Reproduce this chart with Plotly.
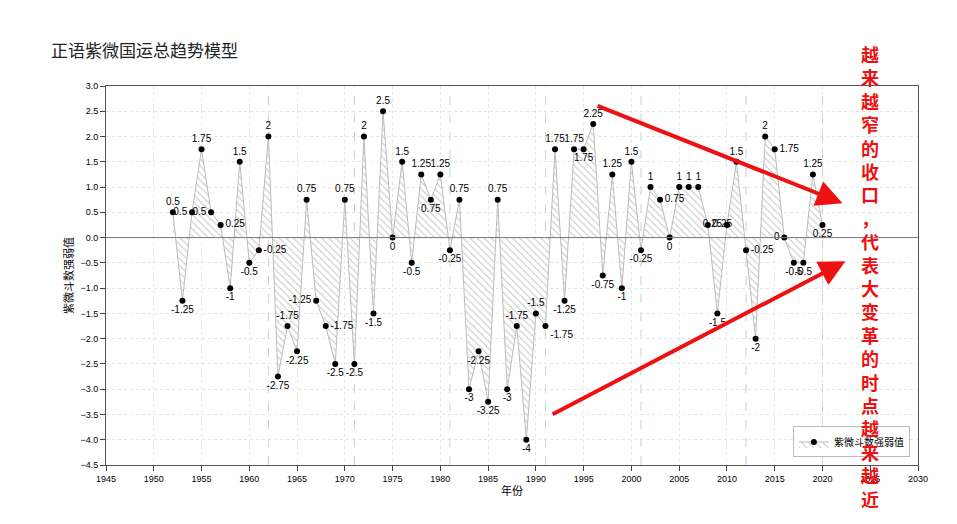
import plotly.graph_objects as go

years = list(range(1952, 2021))
values = [0.5, -1.25, 0.5, 1.75, 0.5, 0.25, -1, 1.5, -0.5, -0.25,
          2, -2.75, -1.75, -2.25, 0.75, -1.25, -1.75, -2.5, 0.75, -2.5,
          2, -1.5, 2.5, 0, 1.5, -0.5, 1.25, 0.75, 1.25, -0.25,
          0.75, -3, -2.25, -3.25, 0.75, -3, -1.75, -4, -1.5, -1.75,
          1.75, -1.25, 1.75, 1.75, 2.25, -0.75, 1.25, -1, 1.5, -0.25,
          1, 0.75, 0, 1, 1, 1, 0.25, -1.5, 0.25, 1.5,
          -0.25, -2, 2, 1.75, 0, -0.5, -0.5, 1.25, 0.25]
labels = [("%g" % v) for v in values]
overrides = {1952: "top center", 1954: "middle left", 1956: "middle left", 1957: "middle right",
             1961: "middle right", 1964: "top center", 1967: "middle left", 1968: "middle right",
             1979: "bottom center", 1988: "top center", 1990: "top center", 1991: "bottom right",
             1995: "bottom center", 2003: "middle right", 2008: "middle right", 2010: "middle left",
             2012: "middle right", 2015: "middle right", 2016: "middle left", 2020: "bottom center"}
positions = [overrides.get(y, "top center" if v > 0 else "bottom center") for y, v in zip(years, values)]

fig = go.Figure()
fig.add_trace(go.Scatter(
    x=years, y=values, mode="lines+markers+text", name="紫微斗数强弱值",
    line=dict(color="#bbbbbb", width=1),
    marker=dict(color="black", size=6),
    fill="tozeroy", fillcolor="rgba(0,0,0,0)",
    fillpattern=dict(shape="\\", fgcolor="#888888", bgcolor="white", size=5, solidity=0.2),
    text=labels, textposition=positions, textfont=dict(size=10, color="black", family="Arial"),
))

for xv, col in [(1962, "#cccccc"), (1971, "#cccccc"), (1981, "#b8e0b8"), (1991, "#b8e0b8"),
                (2001, "#b8e0b8"), (2012, "#cccccc"), (2020, "#f4b0b0")]:
    fig.add_shape(type="line", x0=xv, x1=xv, y0=-4.5, y1=3, line=dict(color=col, width=1, dash="dash"), layer="below")
fig.add_shape(type="line", x0=1945, x1=2030, y0=0, y1=0, line=dict(color="#777", width=1))

for (x0, y0, x1, y1) in [(1996.3, 2.62, 2022.1, 0.68), (1991.6, -3.51, 2022.4, -0.47)]:
    fig.add_annotation(x=x1, y=y1, ax=x0, ay=y0, xref="x", yref="y", axref="x", ayref="y",
                       showarrow=True, arrowhead=2, arrowsize=1.3, arrowwidth=4, arrowcolor="#ee1111", text="")

note = "越来越窄的收口，代表大变革的时点越来越近"
fig.add_annotation(xref="paper", yref="paper", x=(873-98)/812, y=1.125, yanchor="top", showarrow=False,
                   text="<br>".join("<b>%s</b>" % c for c in note),
                   font=dict(size=18, color="#ee1111", family="Noto Sans CJK SC"),
                   align="center")

fig.update_layout(
    width=957, height=524, margin=dict(l=98, r=47, t=78, b=67, autoexpand=False),
    paper_bgcolor="white", plot_bgcolor="white",
    font=dict(family="Arial, Noto Sans CJK SC", size=9, color="black"),
    title=dict(text="正语紫微国运总趋势模型", x=0.045, y=0.93,
               font=dict(size=17, color="#222", family="Noto Sans CJK SC")),
    xaxis=dict(range=[1945, 2030], dtick=5, showgrid=True, gridcolor="#e4e4e4", griddash="dot",
               showline=True, linecolor="#555", mirror=True, ticks="outside", automargin=False,
               title=dict(text="年份", standoff=4, font=dict(family="Noto Sans CJK SC")), zeroline=False),
    yaxis=dict(range=[-4.5, 3], dtick=0.5, tickformat=".1f", showgrid=True, gridcolor="#e4e4e4", griddash="dot",
               showline=True, linecolor="#555", mirror=True, ticks="outside", automargin=False,
               title=dict(text="紫微斗数强弱值", standoff=4, font=dict(family="Noto Sans CJK SC")), zeroline=False),
    legend=dict(x=0.99, y=0.02, xanchor="right", yanchor="bottom", bordercolor="#bbb", borderwidth=1,
                font=dict(size=10, family="Noto Sans CJK SC")),
    showlegend=True,
)
fig.write_html("out.html")
